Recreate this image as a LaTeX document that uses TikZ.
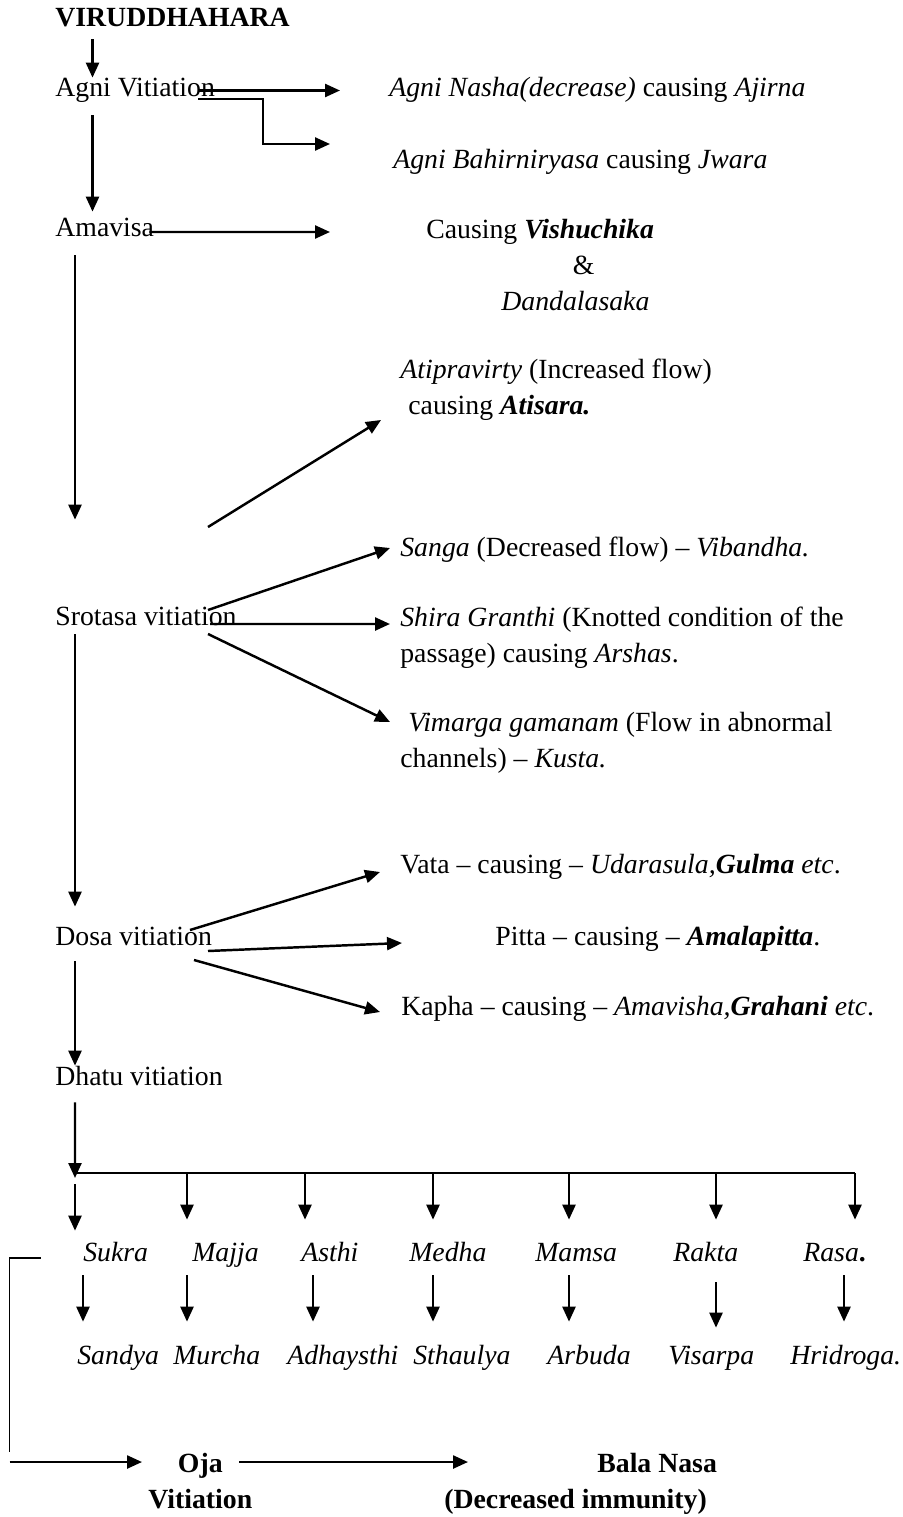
\documentclass[tikz,border=0pt]{standalone}
\usepackage{fontspec}
\setmainfont{Liberation Serif}
\usepackage{tikz}
\usetikzlibrary{arrows.meta, positioning, calc}

\newcommand{\chartfont}{\fontsize{15.8pt}{20.5pt}\selectfont}
\newcommand{\bfit}[1]{\textbf{\textit{#1}}}
\newcommand{\linestack}[2][l]{\begin{tabular}[t]{@{}#1@{}}#2\end{tabular}}

\tikzset{
  flowtext/.style={
    inner sep=0pt, anchor=base west, font=\chartfont,
    text height=0.38cm, text depth=0.12cm
  },
  flowblock/.style={
    inner sep=0pt, anchor=base west, font=\chartfont
  },
  flowarrow/.style={
    -{Triangle[length=3mm, width=2.6mm]}, line width=1.4pt
  },
  flowline/.style={line width=1.4pt},
  bracketline/.style={line width=0.8pt},
}

\begin{document}
\begin{tikzpicture}
  \useasboundingbox (0,0) rectangle (18.04,-30.34);

  % ── Main chain (left column) ───────────────────────────────────
  \node[flowtext, font=\chartfont\bfseries] (viru) at (1.10,-0.54) {VIRUDDHAHARA};
  \node[flowtext] (agni) at (1.10,-1.94) {Agni Vitiation};
  \node[flowtext] (amavisa) at (1.10,-4.72) {Amavisa};
  \node[flowtext] (srotasa) at (1.10,-12.50) {Srotasa vitiation};
  \node[flowtext] (dosa) at (1.10,-18.90) {Dosa vitiation};
  \node[flowtext] (dhatu) at (1.10,-21.70) {Dhatu vitiation};

  \draw[flowarrow, shorten <=1.2mm]
    ([xshift=7.5mm]viru.south west) -- ([xshift=7.5mm]agni.north west);
  \draw[flowarrow, shorten <=2.4mm, shorten >=1mm]
    ([xshift=7.5mm]agni.south west) -- ([xshift=7.5mm]amavisa.north west);
  \draw[flowarrow, shorten <=2.6mm, shorten >=17.2mm]
    ([xshift=4mm]amavisa.south west) -- ([xshift=4mm]srotasa.north west);
  \draw[flowarrow, shorten <=0.6mm, shorten >=3.8mm]
    ([xshift=4mm]srotasa.south west) -- ([xshift=4mm]dosa.north west);
  \draw[flowarrow, shorten <=2mm]
    ([xshift=4mm]dosa.south west) -- ([xshift=4mm]dhatu.north west);

  % ── Agni and Amavisa effects ───────────────────────────────────
  \node[flowtext] (nasha) at (7.78,-1.94)
    {\textit{Agni Nasha(decrease)} causing \textit{Ajirna}};
  \node[flowtext] (bahir) at (7.86,-3.36)
    {\textit{Agni Bahirniryasa} causing \textit{Jwara}};
  \node[flowblock] (vishu) at (8.52,-4.76)
    {\linestack{Causing \bfit{Vishuchika}\\\hspace*{2.93cm}\&\\\hspace*{1.5cm}\textit{Dandalasaka}}};

  \draw[flowarrow, shorten >=9.8mm]
    ([xshift=-3.4mm]agni.east) -- (nasha.west);
  \draw[flowarrow]
    ([shift={(-3.4mm,-1.7mm)}]agni.east)
    -| ([shift={(-2.6cm,3.5mm)}]bahir.west)
    -- ([shift={(-1.26cm,3.5mm)}]bahir.west);
  \draw[flowarrow]
    ([shift={(-1mm,-0.5mm)}]amavisa.east) -- ([shift={(-1.92cm,1.2mm)}]vishu.base west);

  % ── Srotasa effects ────────────────────────────────────────────
  \node[flowblock] (atip) at (8.0,-7.56)
    {\linestack{\textit{Atipravirty} (Increased flow)\\\hspace*{0.16cm}causing \bfit{Atisara.}}};
  \node[flowtext] (sanga) at (8.0,-11.12)
    {\textit{Sanga} (Decreased flow) -- \textit{Vibandha.}};
  \node[flowblock] (shira) at (8.0,-12.52)
    {\linestack{\textit{Shira Granthi} (Knotted condition of the\\passage) causing \textit{Arshas}.}};
  \node[flowblock] (vimarga) at (8.0,-14.62)
    {\linestack{\hspace*{0.16cm}\textit{Vimarga gamanam} (Flow in abnormal\\channels) -- \textit{Kusta.}}};

  \draw[flowarrow]
    ([shift={(3.06,1.96)}]srotasa.base west) -- ([shift={(-0.38,-0.84)}]atip.base west);
  \draw[flowarrow]
    ([shift={(3.06,0.30)}]srotasa.base west) -- ([shift={(-0.2,0.16)}]sanga.base west);
  \draw[flowarrow]
    ([shift={(3.10,0.02)}]srotasa.base west) -- ([shift={(-0.2,0.04)}]shira.base west);
  \draw[flowarrow]
    ([shift={(3.06,-0.18)}]srotasa.base west) -- ([shift={(-0.2,0.18)}]vimarga.base west);

  % ── Dosa effects ───────────────────────────────────────────────
  \node[flowtext] (vata) at (8.0,-17.46)
    {Vata -- causing -- \textit{Udarasula,}\bfit{Gulma} \textit{etc}.};
  \node[flowtext] (pitta) at (9.90,-18.90)
    {Pitta -- causing -- \bfit{Amalapitta}.};
  \node[flowtext] (kapha) at (8.02,-20.30)
    {Kapha -- causing -- \textit{Amavisha,}\bfit{Grahani} \textit{etc}.};

  \draw[flowarrow]
    ([shift={(2.70,0.30)}]dosa.base west) -- ([shift={(-0.4,0.02)}]vata.base west);
  \draw[flowarrow]
    ([shift={(3.06,-0.12)}]dosa.base west) -- ([shift={(-1.86,0.04)}]pitta.base west);
  \draw[flowarrow]
    ([shift={(2.78,-0.30)}]dosa.base west) -- ([shift={(-0.42,0.06)}]kapha.base west);

  % ── Dhatu branches ─────────────────────────────────────────────
  \node[flowtext] (sukra) at (1.66,-25.22) {\textit{Sukra}};
  \node[flowtext] (majja) at (3.84,-25.22) {\textit{Majja}};
  \node[flowtext] (asthi) at (6.02,-25.22) {\textit{Asthi}};
  \node[flowtext] (medha) at (8.18,-25.22) {\textit{Medha}};
  \node[flowtext] (mamsa) at (10.70,-25.22) {\textit{Mamsa}};
  \node[flowtext] (rakta) at (13.46,-25.22) {\textit{Rakta}};
  \node[flowtext] (rasa) at (16.06,-25.22) {\textit{Rasa}\textbf{.}};

  \coordinate (hub) at (1.50,-23.46);
  \coordinate (brMajja) at (3.74,-23.46);
  \coordinate (brAsthi) at (6.10,-23.46);
  \coordinate (brMedha) at (8.66,-23.46);
  \coordinate (brMamsa) at (11.38,-23.46);
  \coordinate (brRakta) at (14.32,-23.46);
  \coordinate (brRasa) at (17.10,-23.46);

  \draw[flowarrow, shorten <=2.2mm, shorten >=-1mm]
    ([xshift=4mm]dhatu.south west) -- (hub);
  \draw[flowline] (hub) -- (brRasa);
  \draw[flowarrow, shorten <=2.2mm, shorten >=2.2mm] (hub) -- (hub |- sukra.north);
  \draw[flowarrow, shorten >=4.4mm] (brMajja) -- (brMajja |- majja.north);
  \draw[flowarrow, shorten >=4.4mm] (brAsthi) -- (brAsthi |- asthi.north);
  \draw[flowarrow, shorten >=4.4mm] (brMedha) -- (brMedha |- medha.north);
  \draw[flowarrow, shorten >=4.4mm] (brMamsa) -- (brMamsa |- mamsa.north);
  \draw[flowarrow, shorten >=4.4mm] (brRakta) -- (brRakta |- rakta.north);
  \draw[flowarrow, shorten >=4.4mm] (brRasa) -- (brRasa |- rasa.north);

  % ── Resulting diseases ─────────────────────────────────────────
  \node[flowtext] (sandya) at (1.54,-27.28) {\textit{Sandya}};
  \node[flowtext] (murcha) at (3.46,-27.28) {\textit{Murcha}};
  \node[flowtext] (adhay) at (5.74,-27.28) {\textit{Adhaysthi}};
  \node[flowtext] (sthaulya) at (8.26,-27.28) {\textit{Sthaulya}};
  \node[flowtext] (arbuda) at (10.94,-27.28) {\textit{Arbuda}};
  \node[flowtext] (visarpa) at (13.36,-27.28) {\textit{Visarpa}};
  \node[flowtext] (hridroga) at (15.80,-27.28) {\textit{Hridroga.}};

  \draw[flowarrow, shorten <=1.6mm, shorten >=4.6mm]
    (sukra.south west) -- (sukra.south west |- sandya.north);
  \draw[flowarrow, shorten <=1.6mm, shorten >=4.6mm]
    ([xshift=-1mm]majja.south west) -- ([xshift=-1mm]majja.south west |- murcha.north);
  \draw[flowarrow, shorten <=1.6mm, shorten >=4.6mm]
    ([xshift=2.4mm]asthi.south west) -- ([xshift=2.4mm]asthi.south west |- adhay.north);
  \draw[flowarrow, shorten <=1.6mm, shorten >=4.6mm]
    ([xshift=4.8mm]medha.south west) -- ([xshift=4.8mm]medha.south west |- sthaulya.north);
  \draw[flowarrow, shorten <=1.6mm, shorten >=4.6mm]
    ([xshift=6.8mm]mamsa.south west) -- ([xshift=6.8mm]mamsa.south west |- arbuda.north);
  \draw[flowarrow, shorten <=3mm, shorten >=3.4mm]
    ([xshift=8.6mm]rakta.south west) -- ([xshift=8.6mm]rakta.south west |- visarpa.north);
  \draw[flowarrow, shorten <=1.6mm, shorten >=4.6mm]
    ([xshift=8.2mm]rasa.south west) -- ([xshift=8.2mm]rasa.south west |- hridroga.north);

  % ── Oja and Bala ───────────────────────────────────────────────
  \node[flowblock, font=\chartfont\bfseries] (oja) at (2.96,-29.44)
    {\linestack[c]{Oja\\Vitiation}};
  \node[flowblock, font=\chartfont\bfseries] (bala) at (8.88,-29.44)
    {\linestack{\hspace*{3.06cm}Bala Nasa\\(Decreased immunity)}};

  \coordinate (ojaIn) at (0.19,-29.24);
  \draw[bracketline]
    ([shift={(-0.85,0.06)}]sukra.base west) -| ([yshift=2mm]ojaIn);
  \draw[flowarrow] (ojaIn) -- ([shift={(-0.12,0.2)}]oja.base west);
  \draw[flowarrow]
    ([shift={(1.82,0.2)}]oja.base west) -- ([shift={(0.48,0.2)}]bala.base west);
\end{tikzpicture}
\end{document}
